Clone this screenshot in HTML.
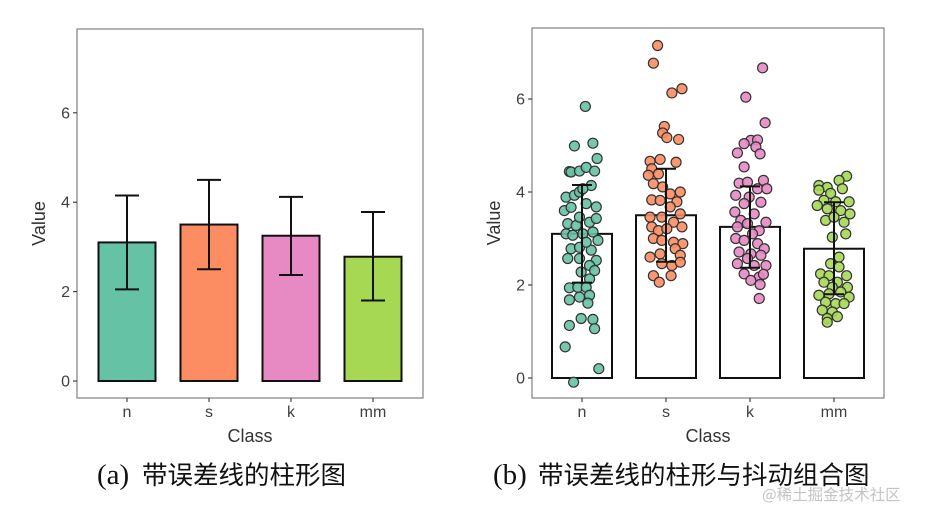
<!DOCTYPE html>
<html><head><meta charset="utf-8"><style>
html,body{margin:0;padding:0;background:#fff;}
svg{display:block;font-family:"Liberation Sans","Noto Sans CJK SC",sans-serif;}
</style></head><body>
<svg id="c" width="928" height="511" viewBox="0 0 928 511" xmlns="http://www.w3.org/2000/svg"></svg>
<script>
const categories = ["n","s","k","mm"];
const means = [3.1, 3.5, 3.25, 2.78];
const errLow = [2.05, 2.5, 2.37, 1.8];
const errHigh = [4.15, 4.5, 4.12, 3.78];
const yTicks = [0, 2, 4, 6];
const colors = ["#66c2a5","#fc8d62","#e78ac3","#a6d854"];
const ptsN = [5.84,4.99,5.05,4.72,4.44,4.43,4.45,4.53,4.45,3.89,3.93,4.0,4.14,4.07,3.6,3.67,3.68,3.75,3.32,3.28,3.35,3.43,3.46,3.1,3.07,3.1,3.14,2.96,2.78,2.81,2.75,2.92,2.57,2.57,2.53,2.42,2.28,2.31,2.13,1.94,1.95,1.95,1.68,1.74,1.78,1.61,1.28,1.26,1.06,1.13,0.67,0.2,-0.09];
const jitN = [0.04,-0.09,0.13,0.18,-0.15,-0.13,-0.03,0.05,0.15,-0.19,-0.09,-0.03,0.11,0.01,-0.21,-0.13,0.17,0.05,-0.17,-0.07,0.09,0.17,-0.03,-0.19,-0.11,0.01,0.13,0.19,-0.13,-0.03,0.11,0.05,-0.17,-0.03,0.17,0.09,-0.01,0.15,0.09,-0.15,-0.05,0.05,-0.15,-0.03,0.09,0.07,-0.01,0.13,0.15,-0.15,-0.2,0.2,-0.1];
const ptsS = [7.15,6.77,6.13,6.22,5.41,5.27,5.17,5.13,4.66,4.7,4.64,4.5,4.39,4.36,4.18,4.11,4.0,3.96,3.83,3.82,3.79,3.68,3.46,3.46,3.53,3.35,3.25,3.17,3.21,3.25,3.0,2.96,2.92,2.89,2.6,2.67,2.78,2.64,2.46,2.42,2.49,2.2,2.06,2.2];
const jitS = [-0.1,-0.15,0.07,0.19,-0.02,-0.04,0.01,0.15,-0.19,-0.07,0.12,-0.17,-0.09,-0.21,-0.15,-0.04,0.17,0.05,-0.17,-0.07,0.13,0.05,-0.19,-0.05,0.17,0.09,-0.17,-0.09,0.01,0.19,-0.15,-0.05,0.09,0.2,-0.19,-0.07,0.11,0.17,-0.05,0.07,0.17,-0.15,-0.08,0.06];
const ptsK = [6.67,6.04,5.49,5.11,5.12,5.04,4.97,4.84,4.82,4.54,4.19,4.21,4.25,4.07,4.07,3.93,3.89,3.78,3.75,3.57,3.53,3.35,3.39,3.25,3.32,3.17,3.1,3.0,2.96,2.89,2.78,2.71,2.67,2.64,2.57,2.46,2.42,2.42,2.24,2.17,2.23,2.1,2.01,1.71];
const jitK = [0.15,-0.05,0.18,0.01,0.09,-0.07,0.07,-0.15,0.12,-0.07,-0.13,-0.03,0.16,0.09,0.2,-0.17,-0.01,0.13,-0.07,-0.18,0.05,0.19,-0.11,-0.15,-0.03,0.11,0.03,-0.17,-0.07,0.09,0.17,-0.13,0.01,0.13,-0.03,-0.15,0.05,0.19,-0.07,0.11,0.16,0.01,0.12,0.11];
const ptsM = [4.34,4.25,4.14,4.1,4.04,3.97,4.07,3.82,3.79,3.79,3.71,3.64,3.6,3.53,3.39,3.46,3.35,3.03,3.1,2.6,2.46,2.39,2.24,2.2,2.2,2.06,2.06,1.95,1.95,1.78,1.81,1.85,1.74,1.63,1.6,1.6,1.46,1.42,1.28,1.32,1.2];
const jitM = [0.15,0.06,-0.18,-0.08,-0.18,-0.04,0.1,-0.12,0.02,0.18,-0.2,-0.08,0.08,0.19,-0.1,0,0.12,-0.02,0.14,0.06,-0.04,0.06,-0.16,-0.06,0.15,0.04,-0.12,-0.02,0.16,-0.18,-0.06,0.08,0.18,-0.1,0.02,0.12,-0.14,-0.02,-0.08,0.04,-0.08];
const points = [ptsN, ptsS, ptsK, ptsM];
const jitters = [jitN, jitS, jitK, jitM];

const NS = "http://www.w3.org/2000/svg";
const svg = document.getElementById("c");
function mk(tag, attrs, parent, text){
  const e = document.createElementNS(NS, tag);
  for (const k in attrs) e.setAttribute(k, attrs[k]);
  if (text !== undefined) e.textContent = text;
  (parent || svg).appendChild(e);
  return e;
}

function panel(P, jitter){
  const g = mk("g", {});
  
  
  const y = v => P.y0 - v * P.ppu;
  const x = i => P.x0 + i * P.step;
  const frame = mk("rect", {x:P.left, y:P.top, width:P.right-P.left, height:P.bottom-P.top, fill:"none", stroke:"#8a8a8a", "stroke-width":1.3}, g);
  
  
  yTicks.forEach(t => {
    const tk = mk("line", {x1:P.left-4, x2:P.left, y1:y(t), y2:y(t), stroke:"#333", "stroke-width":1.1}, g);
    
    
    const lb = mk("text", {x:P.left-7, y:y(t)+5.5, "text-anchor":"end", "font-size":16, fill:"#404040"}, g, String(t));
    
    
  });
  categories.forEach((c, i) => {
    const tk = mk("line", {x1:x(i), x2:x(i), y1:P.bottom, y2:P.bottom+4, stroke:"#333", "stroke-width":1.1}, g);
    
    
    const lb = mk("text", {x:x(i), y:P.bottom+19, "text-anchor":"middle", "font-size":16, fill:"#404040"}, g, c);
    
    
  });
  const xt = mk("text", {x:(P.left+P.right)/2, y:P.bottom+44, "text-anchor":"middle", "font-size":18, fill:"#333"}, g, "Class");
  
  
  const yt = mk("text", {x:0, y:0, transform:`translate(${P.left-32},${(P.top+P.bottom)/2 + 10}) rotate(-90)`, "text-anchor":"middle", "font-size":18, fill:"#333"}, g, "Value");
  
  
  categories.forEach((c, i) => {
    const b = mk("rect", {x:x(i)-P.bw/2, y:y(means[i]), width:P.bw, height:y(0)-y(means[i]), fill: jitter ? "#fff" : colors[i], stroke:"#111", "stroke-width":2}, g);
    
    
  });
  if (jitter) {
    categories.forEach((c, i) => {
      points[i].forEach((v, j) => {
        const p = mk("circle", {cx:x(i) + jitters[i][j]*P.step, cy:y(v), r:5, fill:colors[i], "fill-opacity":0.9, stroke:"#333", "stroke-width":1.2}, g);
        
        
      });
    });
  }
  categories.forEach((c, i) => {
    const e = mk("path", {d:`M${x(i)},${y(errLow[i])}V${y(errHigh[i])}M${x(i)-P.cap},${y(errLow[i])}H${x(i)+P.cap}M${x(i)-P.cap},${y(errHigh[i])}H${x(i)+P.cap}`, stroke:"#111", "stroke-width":2, fill:"none"}, g);
    
    
  });
}

panel({name:"bar-chart-a", left:77, right:423, top:29, bottom:398, y0:381, ppu:44.7, x0:127, step:82, bw:57, cap:12}, false);
panel({name:"jitter-chart-b", left:532, right:884, top:28, bottom:398, y0:378, ppu:46.5, x0:582, step:84, bw:60, cap:10}, true);

const capA = mk("text", {x:97, y:484, fill:"#111"}, svg);


mk("tspan", {"font-family":"'Liberation Serif',serif", "font-size":29}, capA, "(a)");
mk("tspan", {x:142, "font-family":"'Noto Sans CJK SC',sans-serif", "font-size":25.5}, capA, "带误差线的柱形图");
const capB = mk("text", {x:493, y:484, fill:"#111"}, svg);


mk("tspan", {"font-family":"'Liberation Serif',serif", "font-size":29}, capB, "(b)");
mk("tspan", {x:538, "font-family":"'Noto Sans CJK SC',sans-serif", "font-size":25.5}, capB, "带误差线的柱形与抖动组合图");
const wm = mk("text", {x:762, y:500, "font-size":15.5, fill:"#c4c4c4", "font-family":"'Noto Sans CJK SC',sans-serif"}, svg, "@稀土掘金技术社区");


</script>
</body></html>
